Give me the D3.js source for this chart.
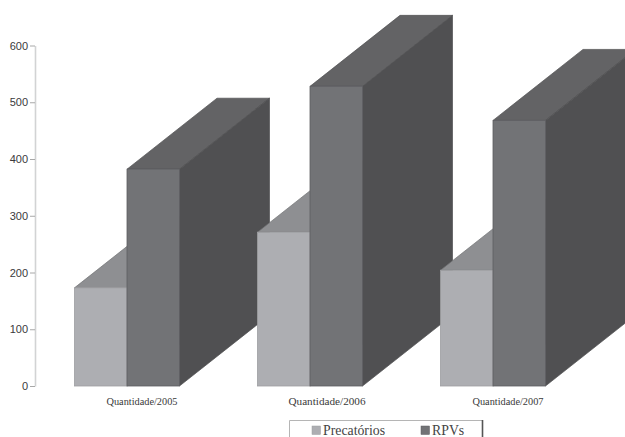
<!DOCTYPE html>
<html lang="pt">
<head>
<meta charset="UTF-8">
<title>Precatórios e RPVs</title>
<style>
    html, body { margin: 0; padding: 0; background: #fff; overflow: hidden; }
    svg { display: block; }
    .tick text { font-family: "Liberation Sans", sans-serif; font-size: 11px; fill: #3a3a3c; }
    .cat { font-family: "Liberation Serif", serif; fill: #3a3a3a; text-anchor: middle; }
    .leg { font-family: "Liberation Serif", serif; font-size: 13.8px; fill: #444; }
</style>
</head>
<body>
<script src="https://cdn.jsdelivr.net/npm/d3@7"></script>
<script>
var categories = ["Quantidade/2005", "Quantidade/2006", "Quantidade/2007"];
var seriesNames = ["Precatórios", "RPVs"];
var precatorios = [173, 271, 204];
var rpvs = [382, 528, 468];
var yTicks = [0, 100, 200, 300, 400, 500, 600];

var w = 625, h = 437;
var depthX = 90, depthY = 71;
// front, top, side
var shades = {
    "Precatórios": ["#adaeb2", "#8e8f92", "#707173"],
    "RPVs": ["#727376", "#636365", "#505052"]
};
var strokes = { "Precatórios": "#9d9ea1", "RPVs": "#5e5e62" };

var svg = d3.select("body").append("svg").attr("width", w).attr("height", h);

var x0 = d3.scaleBand().domain(categories).range([35.5, 584.5])
    .paddingInner(78 / 183).paddingOuter(39 / 183);
var x1 = d3.scaleBand().domain(seriesNames).range([0, x0.bandwidth()]);
var y = d3.scaleLinear().domain([0, 600]).range([386, 45.5]);

var axis = d3.axisLeft(y).tickValues(yTicks).tickSize(5).tickPadding(2).tickSizeOuter(0);
var gAxis = svg.append("g").attr("transform", "translate(35,0)").call(axis);
gAxis.select(".domain").attr("stroke", "#d2d3d4").attr("stroke-width", 1.6);
gAxis.selectAll(".tick line").attr("stroke", "#a8a8a8");

function poly(g, pts, fill, stroke) {
    g.append("polygon")
        .attr("points", pts.map(function (p) { return p.join(","); }).join(" "))
        .attr("fill", fill)
        .attr("stroke", stroke)
        .attr("stroke-width", 0.7)
        .attr("stroke-linejoin", "round");
}

categories.forEach(function (cat, i) {
    var g = svg.append("g");
    [precatorios[i], rpvs[i]].forEach(function (v, s) {
        var name = seriesNames[s];
        var c = shades[name];
        var left = x0(cat) + x1(name);
        var right = left + x1.bandwidth();
        var top = y(v), base = y(0);
        // top face
        poly(g, [[left, top], [right, top], [right + depthX, top - depthY], [left + depthX, top - depthY]], c[1], c[2]);
        // side face
        poly(g, [[right, top], [right + depthX, top - depthY], [right + depthX, base - depthY], [right, base]], c[2], c[2]);
        // front face
        g.append("rect")
            .attr("x", left).attr("y", top)
            .attr("width", x1.bandwidth()).attr("height", base - top)
            .attr("fill", c[0])
            .attr("stroke", strokes[name])
            .attr("stroke-width", 0.8);
    });
    // labels are not centred on the bars in the original
    svg.append("text").attr("class", "cat")
        .attr("x", x0(cat) + x0.bandwidth() / 2 + (i === 1 ? 17 : 15))
        .attr("y", 405)
        .attr("font-size", i === 1 ? "11.2px" : "10.3px")
        .text(cat);
});

// legend, cut off by the bottom of the page
svg.append("path").attr("d", "M289.5,437V420.5H482").attr("fill", "none").attr("stroke", "#b5b5b5");
svg.append("line").attr("x1", 482.5).attr("x2", 482.5).attr("y1", 420).attr("y2", 437)
    .attr("stroke", "#555").attr("stroke-width", 1.6);

var legX = d3.scaleOrdinal().domain(seriesNames).range([312, 421]);
seriesNames.forEach(function (name) {
    svg.append("rect").attr("x", legX(name)).attr("y", 426)
        .attr("width", 8.5).attr("height", 8.5)
        .attr("fill", shades[name][0]).attr("stroke", strokes[name]).attr("stroke-width", 0.5);
    svg.append("text").attr("class", "leg").attr("x", legX(name) + 11).attr("y", 435).text(name);
});
</script>
</body>
</html>
